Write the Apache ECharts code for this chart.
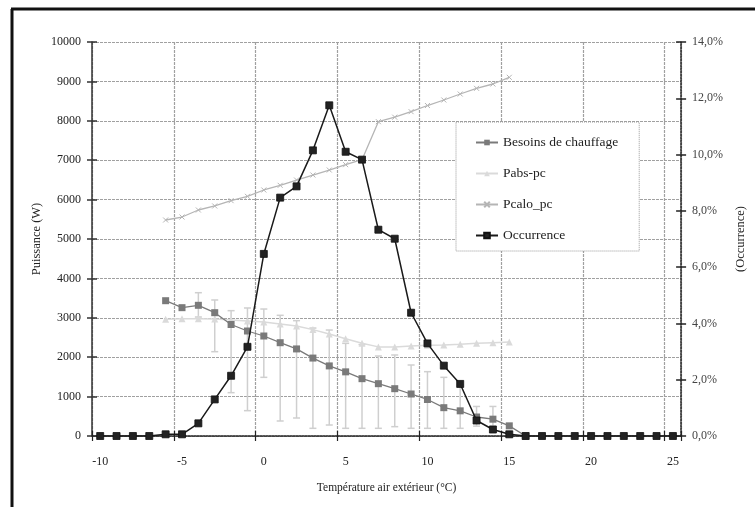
<!DOCTYPE html>
<html>
<head>
<meta charset="utf-8">
<script src="https://cdn.jsdelivr.net/npm/echarts@6/dist/echarts.min.js"></script>
<style>
  html, body { margin: 0; padding: 0; background: #fff; }
  #chart { width: 755px; height: 507px; }
</style>
</head>
<body>
<div id="chart"></div>
<script>
// Outdoor temperature classes (°C)
const categories = ['-10','-9','-8','-7','-6','-5','-4','-3','-2','-1','0','1','2','3','4','5','6','7','8','9',
  '10','11','12','13','14','15','16','17','18','19','20','21','22','23','24','25'];

// Heating need (W)
const besoins = ['-','-','-','-',3434,3257,3317,3130,2830,2665,2538,2368,2210,1978,1779,1628,1455,1328,1201,1066,
  927,719,639,482,427,258,0,'-','-','-','-','-','-','-','-','-'];

// Heat pump absorbed power (W)
const pabs = ['-','-','-','-',2961,2978,2978,2970,2944,2919,2893,2843,2792,2700,2590,2470,2352,2262,2262,2284,
  2301,2310,2327,2352,2368,2385,'-','-','-','-','-','-','-','-','-','-'];

// Heat pump heating power (W)
const pcalo = ['-','-','-','-',5482,5558,5736,5838,5973,6083,6244,6362,6497,6624,6751,6887,7013,7978,8092,8232,
  8388,8528,8680,8824,8934,9104,'-','-','-','-','-','-','-','-','-','-'];

// Occurrence of each temperature class (%)
const occurrence = [0,0,0,0,0.06,0.06,0.45,1.30,2.14,3.17,6.47,8.47,8.87,10.15,11.75,10.10,9.82,7.33,7.01,4.38,
  3.29,2.50,1.85,0.55,0.23,0.06,0,0,0,0,0,0,0,0,0,0];

// Spread of the heating need: low / high bounds per class, from -6 °C
const spreadLow  = ['-','-',3020,2140,1100,643,1489,381,457,195,279,195,195,195,237,195,195,195,195,250,250];
const spreadHigh = ['-','-',3637,3452,3181,3249,3223,3063,2927,2740,2690,2352,2320,2030,2056,1802,1633,1489,1300,750,750];
const spreadStart = categories.indexOf('-6');

// Axis ticks
const leftTicks = { min: 0, max: 10000, interval: 1000 };
const rightTicks = { min: 0, max: 14, interval: 2 };

const FONT = 'Liberation Serif';
const spreadData = [];
spreadLow.forEach((lo, i) => {
  if (lo !== '-') spreadData.push([spreadStart + i, lo, spreadHigh[i]]);
});

const gridLine = { show: true, lineStyle: { color: '#a0a0a0', width: 1.2, type: [3, 1] } };

const chart = echarts.init(document.getElementById('chart'), null, { renderer: 'canvas' });
chart.setOption({
  animation: false,
  backgroundColor: '#fff',
  textStyle: { fontFamily: FONT },
  grid: { left: 92, right: 69, top: 42, bottom: 71 },
  graphic: [
    { type: 'line', shape: { x1: 12, y1: 9, x2: 12, y2: 507 }, style: { stroke: '#111', lineWidth: 3 } },
    { type: 'line', shape: { x1: 11, y1: 9, x2: 755, y2: 9 }, style: { stroke: '#111', lineWidth: 3 } }
  ],
  legend: {
    orient: 'vertical',
    left: 456, top: 122,
    padding: [13, 21, 8, 19],
    itemGap: 16,
    itemWidth: 22,
    itemHeight: 7,
    backgroundColor: '#fff',
    borderColor: '#999',
    borderWidth: 1,
    borderType: [1, 1],
    textStyle: { fontFamily: FONT, fontSize: 13.5, color: '#222', lineHeight: 15 },
    data: ['Besoins de chauffage', 'Pabs-pc', 'Pcalo_pc', 'Occurrence']
  },
  xAxis: [
    {
      type: 'category', data: categories, boundaryGap: true,
      name: 'Température air extérieur (°C)', nameLocation: 'middle', nameGap: 46,
      nameTextStyle: { fontFamily: FONT, fontSize: 11.5, color: '#222' },
      axisLine: { lineStyle: { color: '#222', width: 1.5, type: [2, 1] } },
      axisTick: { show: true, interval: 4, length: 5, lineStyle: { color: '#222', width: 1.2 } },
      axisLabel: { interval: 4, margin: 20, fontFamily: FONT, fontSize: 12, color: '#222' },
      splitLine: Object.assign({ interval: 4 }, gridLine)
    },
    {
      type: 'category', data: categories, boundaryGap: true, position: 'bottom',
      axisLine: { show: false },
      axisTick: { show: true, inside: true, interval: 4, length: 5, lineStyle: { color: '#222', width: 1.2 } },
      axisLabel: { show: false }, splitLine: { show: false }
    }
  ],
  yAxis: [
    {
      type: 'value', position: 'left', min: leftTicks.min, max: leftTicks.max, interval: leftTicks.interval,
      name: 'Puissance (W)', nameLocation: 'middle', nameGap: 49, nameRotate: 90, nameMoveOverlap: false,
      nameTextStyle: { fontFamily: FONT, fontSize: 12.5, color: '#222' },
      axisLine: { show: true, lineStyle: { color: '#333', width: 1.5 } },
      axisTick: { show: true, length: 5, lineStyle: { color: '#333', width: 1.5 } },
      axisLabel: { margin: 11, fontFamily: FONT, fontSize: 12, color: '#222', formatter: v => String(v) },
      splitLine: gridLine
    },
    {
      type: 'value', position: 'right', min: rightTicks.min, max: rightTicks.max, interval: rightTicks.interval,
      name: '(Occurrence)', nameLocation: 'middle', nameGap: 52, nameRotate: 90,
      nameTextStyle: { fontFamily: FONT, fontSize: 12.5, color: '#222' },
      axisLine: { show: true, lineStyle: { color: '#222', width: 1.5, type: [2, 1] } },
      axisTick: { show: true, length: 5, lineStyle: { color: '#222', width: 1.5 } },
      axisLabel: {
        margin: 11, fontFamily: FONT, fontSize: 12, color: '#444',
        formatter: v => v.toFixed(1).replace('.', ',') + '%'
      },
      splitLine: { show: false }
    },
    {
      type: 'value', position: 'left', min: leftTicks.min, max: leftTicks.max, interval: leftTicks.interval,
      axisLine: { show: false },
      axisTick: { show: true, inside: true, length: 5, lineStyle: { color: '#333', width: 1.5 } },
      axisLabel: { show: false }, splitLine: { show: false }
    },
    {
      type: 'value', position: 'right', min: rightTicks.min, max: rightTicks.max, interval: rightTicks.interval,
      axisLine: { show: false },
      axisTick: { show: true, inside: true, length: 5, lineStyle: { color: '#222', width: 1.5 } },
      axisLabel: { show: false }, splitLine: { show: false }
    }
  ],
  series: [
    {
      type: 'custom', name: 'spread', xAxisIndex: 0, yAxisIndex: 0, z: 1,
      data: spreadData,
      encode: { x: 0, y: [1, 2] },
      renderItem: (params, api) => {
        const top = api.coord([api.value(0), api.value(2)]);
        const bot = api.coord([api.value(0), api.value(1)]);
        const w = 3.5;
        const st = { stroke: '#cfcfcf', lineWidth: 1.5 };
        return {
          type: 'group',
          children: [
            { type: 'line', shape: { x1: top[0], y1: top[1], x2: bot[0], y2: bot[1] }, style: st },
            { type: 'line', shape: { x1: top[0] - w, y1: top[1], x2: top[0] + w, y2: top[1] }, style: st },
            { type: 'line', shape: { x1: bot[0] - w, y1: bot[1], x2: bot[0] + w, y2: bot[1] }, style: st }
          ]
        };
      }
    },
    {
      type: 'line', name: 'Besoins de chauffage', data: besoins, yAxisIndex: 0, z: 3,
      symbol: 'rect', symbolSize: 7, showAllSymbol: true,
      lineStyle: { color: '#7a7a7a', width: 1.3 },
      itemStyle: { color: '#7a7a7a' }
    },
    {
      type: 'line', name: 'Pabs-pc', data: pabs, yAxisIndex: 0, z: 2,
      symbol: 'triangle', symbolSize: 7, showAllSymbol: true,
      lineStyle: { color: '#dadada', width: 1.5 },
      itemStyle: { color: '#dadada' }
    },
    {
      type: 'line', name: 'Pcalo_pc', data: pcalo, yAxisIndex: 0, z: 2,
      symbol: 'path://M0,0L10,10M10,0L0,10', symbolSize: 5, showAllSymbol: true,
      lineStyle: { color: '#b5b5b5', width: 1.3 },
      itemStyle: { color: '#b5b5b5', borderColor: '#b5b5b5', borderWidth: 1 }
    },
    {
      type: 'line', name: 'Occurrence', data: occurrence, yAxisIndex: 1, z: 4,
      symbol: 'rect', symbolSize: 7, showAllSymbol: true,
      lineStyle: { color: '#1a1a1a', width: 1.5 },
      itemStyle: { color: '#222', borderColor: '#111', borderWidth: 0.8 }
    }
  ]
});
</script>
</body>
</html>
